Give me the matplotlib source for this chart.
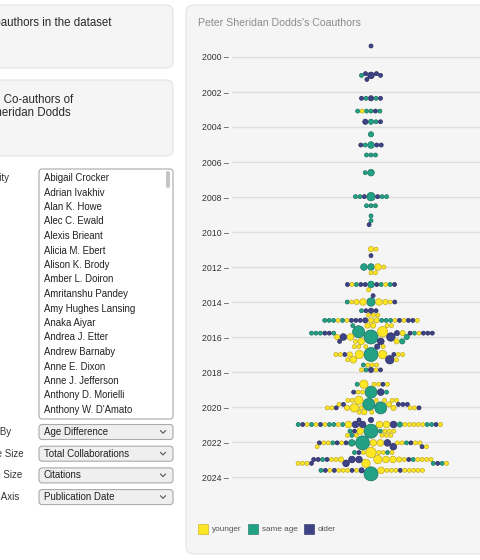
import numpy as np
import matplotlib
matplotlib.use("Agg")
import matplotlib.pyplot as plt
from matplotlib.patches import FancyBboxPatch, Rectangle

plt.rcParams["font.family"] = ["Liberation Sans", "DejaVu Sans"]

# ---- data ----
coauthor_names = ["Abigail Crocker", "Adrian Ivakhiv", "Alan K. Howe", "Alec C. Ewald",
                  "Alexis Brieant", "Alicia M. Ebert", "Alison K. Brody", "Amber L. Doiron",
                  "Amritanshu Pandey", "Amy Hughes Lansing", "Anaka Aiyar", "Andrea J. Etter",
                  "Andrew Barnaby", "Anne E. Dixon", "Anne J. Jefferson", "Anthony D. Morielli",
                  "Anthony W. D'Amato"]
menu_labels = ["Color By", "Node Size", "Edge Size", "X Axis"]
menu_values = ["Age Difference", "Total Collaborations", "Citations", "Publication Date"]
group_names = ["younger", "same age", "older"]
group_colors = ["#fde725", "#22a184", "#3e4388"]
group_edges = ["#c2ab1c", "#17735e", "#262a5c"]
year_ticks = list(range(2000, 2025, 2))

# publication dates of coauthor "rows"; tokens = group letter (y/s/o) + size class
row_dates = [1999.37, 2000.95, 2001.05, 2001.28, 2002.36, 2003.09, 2003.70, 2004.42,
             2005.03, 2005.60, 2006.61, 2007.98, 2008.50, 2009.08, 2009.35, 2009.58,
             2010.98, 2011.35, 2012.00, 2012.33, 2013.00, 2013.30, 2013.64, 2014.00,
             2014.50, 2014.75, 2015.05, 2015.35, 2015.70, 2015.78, 2016.00, 2016.25,
             2016.55, 2017.00, 2017.30, 2017.60, 2017.88, 2018.70, 2019.15, 2019.62,
             2019.85, 2020.05, 2020.30, 2020.74, 2021.00, 2021.38, 2021.62, 2022.05,
             2022.27, 2022.60, 2023.00, 2023.22, 2023.62, 2023.82]
row_points = [
    "o1", "o1 o1", "o3 s1 o1", "o1",
    "s1 o2 s1 o1 o1", "s1 s1 o1 y1 s1 s1", "s1 s2 o2 o1", "s2",
    "o1 s1 s3 o1 o1", "s1 s1 s1", "s1 s3", "o1 o1 s1 s4 s1 s1 s1",
    "s1 s1 s1", "s1", "s1", "o1",
    "y2 y1", "o1", "s3 y3 s3 y1", "y1 y1",
    "o1 o1 o1 s1 s3 s1 y1 y1 s1 o1 o1", "y1", "o1", "y1 y1 y2 y3 s4 y3 y2 s1 o1",
    "o1 o1 o2 s1", "y1 y1 y1",
    "o1 s1 o1 s1 o1 s1 y1 y1 s1 o1 y2 y2 o2 y1 y1 s1 o1 s1 o1 s1 y1",
    "y2 y2 y1 s1 y1", "s6 y5",
    "s1 o1 o1 s1 o1 y1 o2 y2 s1 o1 s1 o1 s1 o1",
    "s7 o4 y3 o3 y2 s2", "y3 o3 y2 s2 y1 o1",
    "y1 y1 y1 o2 y1", "o1 o1 y2 y4 s7 y4 y1 y1 y1 y1", "o4 y3 y1 y1", "y1 y1 y1 s1",
    "y1 o2 s1 o1 y1", "y1 y4 y1 o1 s1 y1", "y1 o3 s6 y1 s1 o1", "y4 y1 y1 y1 y1 y1 y1",
    "o1 o1 o1 y1 y2 s6 o1", "y1 o1 y1 y1 y2 s6 y4 y2 y1 y1 o1", "y1 y2 y1", "o2 o1",
    "s1 y1 y1 s1 y1 s1 y1 y1 o3 y3 s2 o3 y3 y3 o3 y1 o1 y1 y1 s1 s1 s1 y1 o1 o1 y1 s1",
    "s7 y3 s1 y1 o1 y1 s1 y1", "y1 y1 y1 s1 y1 y1",
    "o1 y1 y1 y1 o1 s1 s1 y3 s7 y3 o3 s3 o1 y1 y1 y1 y1 o1",
    "o3 o1 y1 y1", "y1 y1 y1 y5 o1 s1 s1 y1",
    "y1 y1 o1 y1 s1 o1 y1 o3 y2 y4 y3 o3 y3 y2 s1 y1 o1 y1 o1 y1",
    "o1 s1 y1 o3 y4 o1 y1 s1 y1 y1",
    "y1 y1 o1 y1 y1 y1 y1 o1 y1 y1 o2 y3 o1 y1 y1 y1 o1 y1 s1 y1",
    "s7",
]

radius_px = [0, 2.0, 2.6, 3.3, 4.2, 5.2, 6.0, 7.0]

W, H = 480, 560
fig = plt.figure(figsize=(W / 100, H / 100), dpi=100)
bg = fig.add_axes([0, 0, 1, 1])
bg.set_xlim(0, W)
bg.set_ylim(H, 0)
bg.axis("off")


def box(x0, y0, x1, y1, fc, ec, r):
    bg.add_patch(FancyBboxPatch((x0, y0), x1 - x0, y1 - y0,
                                boxstyle=f"round,pad=0,rounding_size={r}",
                                fc=fc, ec=ec, lw=0.8))


# panels
box(-10, 5, 173, 68, "#f5f5f5", "#e3e3e3", 7)
box(-10, 80, 173, 156, "#f5f5f5", "#e3e3e3", 7)
box(186, 5, 495, 554, "#f5f5f5", "#e3e3e3", 8)

bg.text(111, 23, "Coauthors in the dataset", ha="right", va="center", fontsize=8.3, color="#2a2a2a")
bg.text(73, 100, "Total Co-authors of", ha="right", va="center", fontsize=8.3, color="#2a2a2a")
bg.text(71, 113, "Peter Sheridan Dodds", ha="right", va="center", fontsize=8.3, color="#2a2a2a")

# list box
bg.text(9, 178, "Select Identity", ha="right", va="center", fontsize=7, color="#333")
box(39, 169, 173, 419, "white", "#a8a8a8", 3)
box(166, 171, 170, 188, "#c4c4c4", "none", 2)
for i, name in enumerate(coauthor_names):
    bg.text(44, 178 + 14.5 * i, name, ha="left", va="center", fontsize=6.9, color="#222")

# dropdowns
for i, (lab, val) in enumerate(zip(menu_labels, menu_values)):
    y = 432 + 21.7 * i
    bg.text([11, 24, 22, 19][i], y, lab, ha="right", va="center", fontsize=7, color="#333")
    box(39, y - 7.5, 173, y + 7.5, "#efeff0", "#aaaaaa", 3)
    bg.text(44, y, val, ha="left", va="center", fontsize=7, color="#222")
    bg.plot([160.5, 163, 165.5], [y - 1.3, y + 1.2, y - 1.3], color="#555", lw=0.8)

# chart title and legend
bg.text(198, 23, "Peter Sheridan Dodds's Coauthors", ha="left", va="center", fontsize=7.6, color="#8c8c8c")
for x, name, fc, ec in zip([198, 248, 304], group_names, group_colors, group_edges):
    bg.add_patch(Rectangle((x, 524), 10, 10, fc=fc, ec=ec, lw=0.4))
    bg.text(x + 14, 529.5, name, ha="left", va="center", fontsize=5.9, color="#555")

# ---- beeswarm ----
dates, groups, sizes = [], [], []
for d, row in zip(row_dates, row_points):
    for tok in row.split():
        dates.append(d)
        groups.append("yso".index(tok[0]))
        sizes.append(int(tok[1]))
dates = np.array(dates)
groups = np.array(groups)
rad = np.array([radius_px[s] for s in sizes])

left, right, top, bottom = 232, W, 35, 500
centre = 371
ax = fig.add_axes([left / W, 1 - bottom / H, (right - left) / W, (bottom - top) / H])
ax.patch.set_alpha(0)
ppy = 17.5  # pixels per year on the date axis
y0 = 2000 + (bottom - 57) / ppy
y1 = 2000 - (57 - top) / ppy
ax.set_ylim(y0, y1)
ax.set_xlim(left - centre, right - centre)

ypx = dates * ppy
order = sorted(range(len(dates)), key=lambda i: (-rad[i], dates[i]))
xs = np.zeros(len(dates))
placed = []
pad = 0.45
for k, i in enumerate(order):
    cands = [0.0]
    for j in placed:
        d = rad[i] + rad[j] + pad
        dy = ypx[i] - ypx[j]
        if abs(dy) < d:
            dx = np.sqrt(d * d - dy * dy)
            cands += [xs[j] + dx, xs[j] - dx]
    sgn = 1 if k % 2 else -1
    cands.sort(key=lambda c: (round(abs(c), 3), sgn * c))
    for c in cands:
        if all((c - xs[j]) ** 2 + (ypx[i] - ypx[j]) ** 2 >= (rad[i] + rad[j] + pad) ** 2 - 1e-6
               for j in placed):
            xs[i] = c
            break
    placed.append(i)

idx = np.array(order)
ax.scatter(xs[idx], dates[idx], s=(2 * rad[idx] * 0.72) ** 2,
           c=[group_colors[g] for g in groups[idx]],
           edgecolors=[group_edges[g] for g in groups[idx]], linewidths=0.5, zorder=3)

ax.set_yticks(year_ticks)
ax.set_yticklabels([f"{y} \u2013" for y in year_ticks])
ax.tick_params(axis="y", length=0, pad=2.5, labelsize=6.3, labelcolor="#333")
ax.set_xticks([])
ax.grid(axis="y", color="#dedede", lw=1)
ax.set_axisbelow(True)
for s in ax.spines.values():
    s.set_visible(False)

fig.savefig("out.png", dpi=100)
